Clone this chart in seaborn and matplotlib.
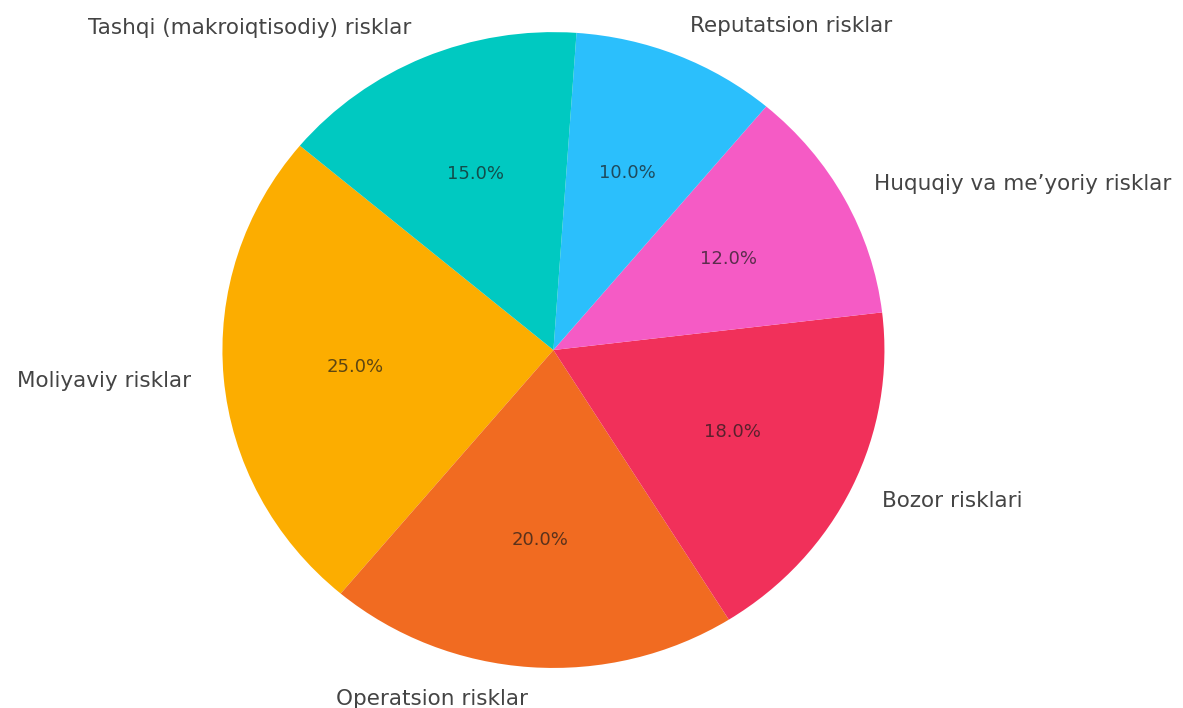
import matplotlib
matplotlib.use("Agg")
import matplotlib.pyplot as plt
import seaborn as sns

categories = ["Moliyaviy risklar", "Operatsion risklar", "Bozor risklari",
              "Huquqiy va me\u2019yoriy risklar", "Reputatsion risklar",
              "Tashqi (makroiqtisodiy) risklar"]
values = [25, 20, 18, 12, 10, 15]
colors = ["#FCAD00", "#F16B21", "#F1305A", "#F55BC5", "#2BBFFC", "#00C9C1"]

sns.set_theme(style="white")
plt.rcParams['font.family'] = ['DejaVu Sans']

fig = plt.figure(figsize=(11.83, 7.08), dpi=100)
ax = fig.add_axes([0, 0, 1, 1])
wedges, texts, autotexts = ax.pie(values, labels=categories, colors=colors,
                                  autopct="%1.1f%%", startangle=140,
                                  wedgeprops=dict(linewidth=0),
                                  textprops=dict(color="#444444", fontsize=15.5))
for t in autotexts:
    t.set_color("#1a1a1a")
    t.set_alpha(0.7)
    t.set_fontsize(13)
ax.set_aspect("auto")
ax.set_xlim(-1.672, 1.902)
ax.set_ylim(-1.126, 1.101)
fig.savefig("out.png", dpi=100)
